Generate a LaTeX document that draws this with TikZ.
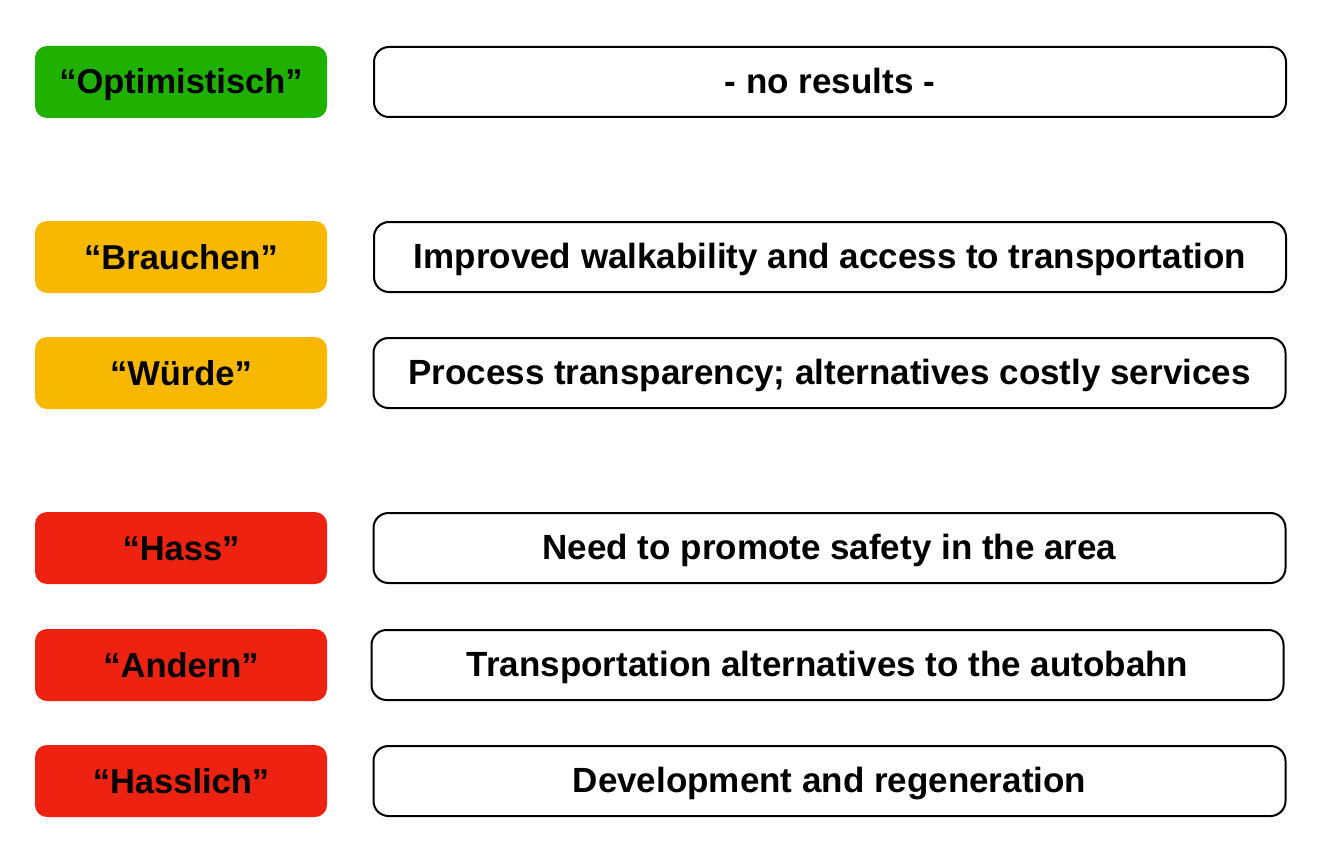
\documentclass[tikz,border=0pt]{standalone}
\usepackage{fontspec}
\setmainfont{Liberation Sans}
\definecolor{cgreen}{HTML}{1FB000}
\definecolor{cyellow}{HTML}{F8B800}
\definecolor{cred}{HTML}{EE2210}
\tikzset{
  tag/.style={rounded corners=12pt, minimum width=292pt, minimum height=72pt, inner sep=0pt, text height=25pt, text depth=1pt, font=\bfseries\fontsize{34.5}{40}\selectfont, text=black},
  result/.style={draw=black, line width=2pt, fill=white, rounded corners=15pt, minimum width=912pt, minimum height=70pt, inner sep=0pt, text height=25pt, text depth=2pt, font=\bfseries\fontsize{35}{40}\selectfont}
}
\begin{document}
\begin{tikzpicture}[x=1pt,y=-1pt]
\useasboundingbox (0,0) rectangle (1328,864);
\node[tag, fill=cgreen] (t1) at (181,82) {“Optimistisch”};
\node[result] (r1) at (830,82) {- no results -};
\node[tag, fill=cyellow] (t2) at (181,257) {“Brauchen”};
\node[result] (r2) at (830,257) {Improved walkability and access to transportation};
\node[tag, fill=cyellow] (t3) at (181,373) {“Würde”};
\node[result] (r3) at (829.5,373) {Process transparency; alternatives costly services};
\node[tag, fill=cred] (t4) at (181,548) {“Hass”};
\node[result] (r4) at (829.5,548) {Need to promote safety in the area};
\node[tag, fill=cred] (t5) at (181,665) {“Andern”};
\node[result] (r5) at (827.5,665) {Transportation alternatives to the autobahn};
\node[tag, fill=cred] (t6) at (181,781) {“Hasslich”};
\node[result] (r6) at (829.5,781) {Development and regeneration};
\end{tikzpicture}
\end{document}
